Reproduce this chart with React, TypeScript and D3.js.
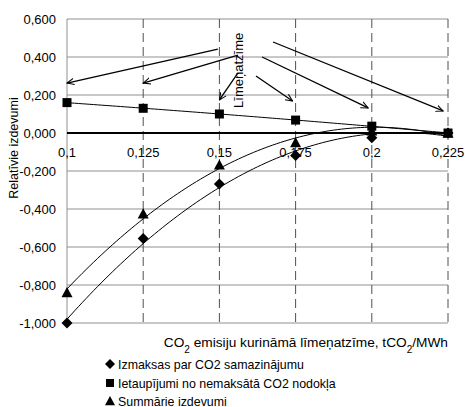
import React from "react";
import * as d3 from "d3";

const categories = [0.1, 0.125, 0.15, 0.175, 0.2, 0.225];
const categoryLabels = ["0,1", "0,125", "0,15", "0,175", "0,2", "0,225"];
const yTicks = [0.6, 0.4, 0.2, 0, -0.2, -0.4, -0.6, -0.8, -1.0];
const izmaksas = [-1.0, -0.555, -0.268, -0.118, -0.025, 0.0];
const ietaupijumi = [0.16, 0.13, 0.1, 0.068, 0.036, 0.0];
const summarie = [-0.84, -0.425, -0.168, -0.05, 0.011, 0.0];
const seriesNames = [
  "Izmaksas par CO2 samazinājumu",
  "Ietaupījumi no nemaksātā CO2 nodokļa",
  "Summārie izdevumi",
];
const annotationText = "Līmeņatzīme";
// arrows in data coordinates: [x0, y0, x1, y1]
const arrows = [
  [0.1495, 0.442, 0.1, 0.263],
  [0.1561, 0.41, 0.125, 0.263],
  [0.1561, 0.316, 0.15, 0.174],
  [0.162, 0.3, 0.174, 0.168],
  [0.164, 0.4, 0.1988, 0.132],
  [0.1676, 0.479, 0.2234, 0.116],
];

function polyfit(xs: number[], ys: number[], deg: number): number[] {
  const n = deg + 1;
  const A: number[][] = Array.from({ length: n }, () => new Array(n + 1).fill(0));
  for (let k = 0; k < xs.length; k++) {
    for (let i = 0; i < n; i++) {
      for (let j = 0; j < n; j++) A[i][j] += Math.pow(xs[k], i + j);
      A[i][n] += ys[k] * Math.pow(xs[k], i);
    }
  }
  for (let c = 0; c < n; c++) {
    let p = c;
    for (let r = c + 1; r < n; r++) if (Math.abs(A[r][c]) > Math.abs(A[p][c])) p = r;
    [A[c], A[p]] = [A[p], A[c]];
    for (let r = 0; r < n; r++) {
      if (r === c) continue;
      const f = A[r][c] / A[c][c];
      for (let j = c; j <= n; j++) A[r][j] -= f * A[c][j];
    }
  }
  return A.map((row, i) => row[n] / A[i][i]);
}

export default function App() {
  const W = 465, H = 407;
  const x = d3.scaleLinear().domain([0.1, 0.225]).range([67, 448]);
  const y = d3.scaleLinear().domain([-1, 0.6]).range([323, 19]);
  const font = "'Liberation Sans', Arial, sans-serif";

  const trend = (vals: number[]) => {
    const ts = categories.map((_, i) => i);
    const c = polyfit(ts, vals, 2);
    const pts: [number, number][] = d3.range(0, 5.0001, 0.05).map((t) => {
      const v = c.reduce((s, ci, i) => s + ci * Math.pow(t, i), 0);
      return [0.1 + t * 0.025, v];
    });
    return d3.line<[number, number]>().x((d) => x(d[0])).y((d) => y(d[1]))(pts) || "";
  };

  const diamond = (cx: number, cy: number, r: number) =>
    `M${cx},${cy - r}L${cx + r},${cy}L${cx},${cy + r}L${cx - r},${cy}Z`;
  const square = (cx: number, cy: number, r: number) =>
    `M${cx - r},${cy - r}h${2 * r}v${2 * r}h${-2 * r}Z`;
  const triangle = (cx: number, cy: number, r: number) =>
    `M${cx},${cy - r}L${cx + r},${cy + r * 0.85}L${cx - r},${cy + r * 0.85}Z`;

  return (
    <svg width={W} height={H} style={{ position: "absolute", left: 0, top: 0, background: "#fff" }} fontFamily={font}>
      <defs>
        <marker id="ah" viewBox="0 0 10 10" refX="9" refY="5" markerWidth="8" markerHeight="8" orient="auto" markerUnits="userSpaceOnUse">
          <path d="M0,1 L9,5 L0,9" fill="none" stroke="#000" strokeWidth="1.3" />
        </marker>
      </defs>
      {/* horizontal gridlines */}
      {yTicks.map((t) => (
        <line key={"g" + t} x1={67} x2={448} y1={y(t)} y2={y(t)} stroke="#909090" strokeWidth={1} />
      ))}
      {/* dashed vertical lines */}
      {categories.slice(1).map((c) => (
        <line key={"v" + c} x1={x(c)} x2={x(c)} y1={19} y2={323} stroke="#505050" strokeWidth={1} strokeDasharray="9,5" />
      ))}
      <line x1={67} x2={67} y1={19} y2={323} stroke="#909090" strokeWidth={1} />
      <line x1={67} x2={448} y1={y(0)} y2={y(0)} stroke="#000" strokeWidth={2} />
      {/* y ticks */}
      {yTicks.map((t) => (
        <text key={"yt" + t} x={56} y={y(t) + 4.5} textAnchor="end" fontSize={13}>
          {d3.format(".3f")(t).replace("−", "-").replace(".", ",")}
        </text>
      ))}
      {/* x ticks */}
      {categories.map((c, i) => (
        <text key={"xt" + c} x={x(c)} y={157} textAnchor="middle" fontSize={13}>
          {categoryLabels[i]}
        </text>
      ))}
      {/* trend curves */}
      <path d={trend(izmaksas)} fill="none" stroke="#000" strokeWidth={1} />
      <path d={trend(ietaupijumi)} fill="none" stroke="#000" strokeWidth={1} />
      <path d={trend(summarie)} fill="none" stroke="#000" strokeWidth={1} />
      {/* markers */}
      {categories.map((c, i) => (
        <g key={"m" + c}>
          <path d={diamond(x(c), y(izmaksas[i]), 5.5)} fill="#000" />
          <path d={triangle(x(c), y(summarie[i]), 5.5)} fill="#000" />
          <path d={square(x(c), y(ietaupijumi[i]), 4.5)} fill="#000" />
        </g>
      ))}
      {/* annotation */}
      {arrows.map((a, i) => (
        <line key={"a" + i} x1={x(a[0])} y1={y(a[1])} x2={x(a[2])} y2={y(a[3])} stroke="#000" strokeWidth={1.3} markerEnd="url(#ah)" />
      ))}
      <text x={0} y={0} transform={`translate(${x(0.1562) + 4.5},${y(0.33)}) rotate(-90)`} textAnchor="middle" fontSize={13}>
        {annotationText}
      </text>
      {/* axis titles */}
      <text transform={`translate(18,148) rotate(-90)`} textAnchor="middle" fontSize={12.5}>
        Relatīvie izdevumi
      </text>
      <text x={448} y={347} textAnchor="end" fontSize={13.7}>
        CO<tspan baselineShift="sub" fontSize={10}>2</tspan> emisiju kurināmā līmeņatzīme, tCO<tspan baselineShift="sub" fontSize={10}>2</tspan>/MWh
      </text>
      {/* legend */}
      <path d={diamond(110, 364, 5)} fill="#000" />
      <path d={square(110, 383, 4)} fill="#000" />
      <path d={triangle(110, 401, 5)} fill="#000" />
      {seriesNames.map((s, i) => (
        <text key={s} x={118} y={[368.5, 387.5, 405.5][i]} fontSize={12.4}>
          {s}
        </text>
      ))}
    </svg>
  );
}
